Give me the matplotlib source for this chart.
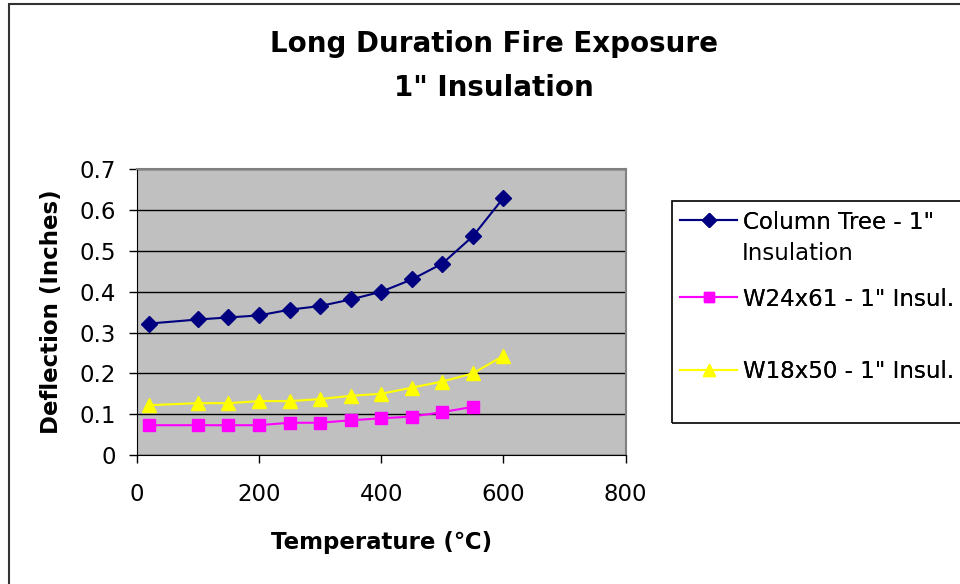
import numpy as np
import matplotlib.pyplot as plt
from matplotlib.patches import Rectangle

plt.rcParams['font.family'] = ['DejaVu Sans']

# data
temp = [20, 100, 150, 200, 250, 300, 350, 400, 450, 500, 550, 600]
column_tree = [0.322, 0.332, 0.337, 0.342, 0.356, 0.365, 0.381, 0.400, 0.430, 0.469, 0.536, 0.630]
w24x61 = [0.073, 0.073, 0.073, 0.073, 0.079, 0.079, 0.085, 0.090, 0.094, 0.105, 0.118]
w18x50 = [0.122, 0.127, 0.127, 0.132, 0.132, 0.137, 0.145, 0.150, 0.165, 0.180, 0.200, 0.243]

W, H = 960, 584
fs = 16.5
fig = plt.figure(figsize=(W / 100, H / 100), dpi=100)

# outer chart frame (right and bottom edges are cut off in the original)
fig.patches.append(Rectangle((9 / W, -0.1), 1.2, 1 - 4 / H + 0.1, transform=fig.transFigure,
                             fill=False, edgecolor='#333333', linewidth=1.5))

ax = fig.add_axes([136.7 / W, 1 - 455 / H, 489 / W, 285.7 / H])
ax.set_facecolor('#C0C0C0')

l1, = ax.plot(temp, column_tree, color='#000080', marker='D', markersize=8, linewidth=1.5)
l2, = ax.plot(temp[:len(w24x61)], w24x61, color='#FF00FF', marker='s', markersize=8, linewidth=1.5)
l3, = ax.plot(temp, w18x50, color='#FFFF00', marker='^', markersize=10, linewidth=1.5)

ax.set_xlim(0, 800)
ax.set_ylim(0, 0.7)
ax.set_xticks([0, 200, 400, 600, 800])
ax.set_yticks([0, 0.1, 0.2, 0.3, 0.4, 0.5, 0.6, 0.7])
ax.set_yticklabels(['0', '0.1', '0.2', '0.3', '0.4', '0.5', '0.6', '0.7'])
ax.tick_params(direction='out', length=6, width=1, labelsize=fs)
ax.tick_params(axis='y', pad=9)
ax.tick_params(axis='x', pad=14)
ax.grid(axis='y', color='black', linewidth=1)
ax.set_axisbelow(True)
for s in ['top', 'right']:
    ax.spines[s].set_color('#808080')
    ax.spines[s].set_linewidth(1.5)
for s in ['left', 'bottom']:
    ax.spines[s].set_color('black')

ax.set_xlabel('Temperature (\u2103)', fontsize=fs, fontweight='bold', labelpad=18)
ax.set_ylabel('Deflection (Inches)', fontsize=fs, fontweight='bold', labelpad=12)

fig.text(493.5 / W, 1 - 66 / H, 'Long Duration Fire Exposure\n1" Insulation', ha='center', va='center',
         fontsize=20, fontweight='bold', linespacing=1.7)

# legend box
fig.patches.append(Rectangle((672 / W, 1 - 422.7 / H), 0.5, 221.2 / H, transform=fig.transFigure,
                             fill=False, edgecolor='black', linewidth=1.2))

for line, label, y in [(l1, 'Column Tree - 1"', 222), (l2, 'W24x61 - 1" Insul.', 299),
                       (l3, 'W18x50 - 1" Insul.', 372)]:
    leg = fig.legend([line], [label], loc='center left', bbox_to_anchor=(680 / W, 1 - y / H),
                     frameon=False, fontsize=fs, handlelength=2.5, handletextpad=0.25,
                     borderpad=0, borderaxespad=0, markerscale=0.85)
    fig.add_artist(leg)
fig.text(742 / W, 1 - 253 / H, 'Insulation', ha='left', va='center', fontsize=fs)

fig.savefig('out.png', dpi=100)
